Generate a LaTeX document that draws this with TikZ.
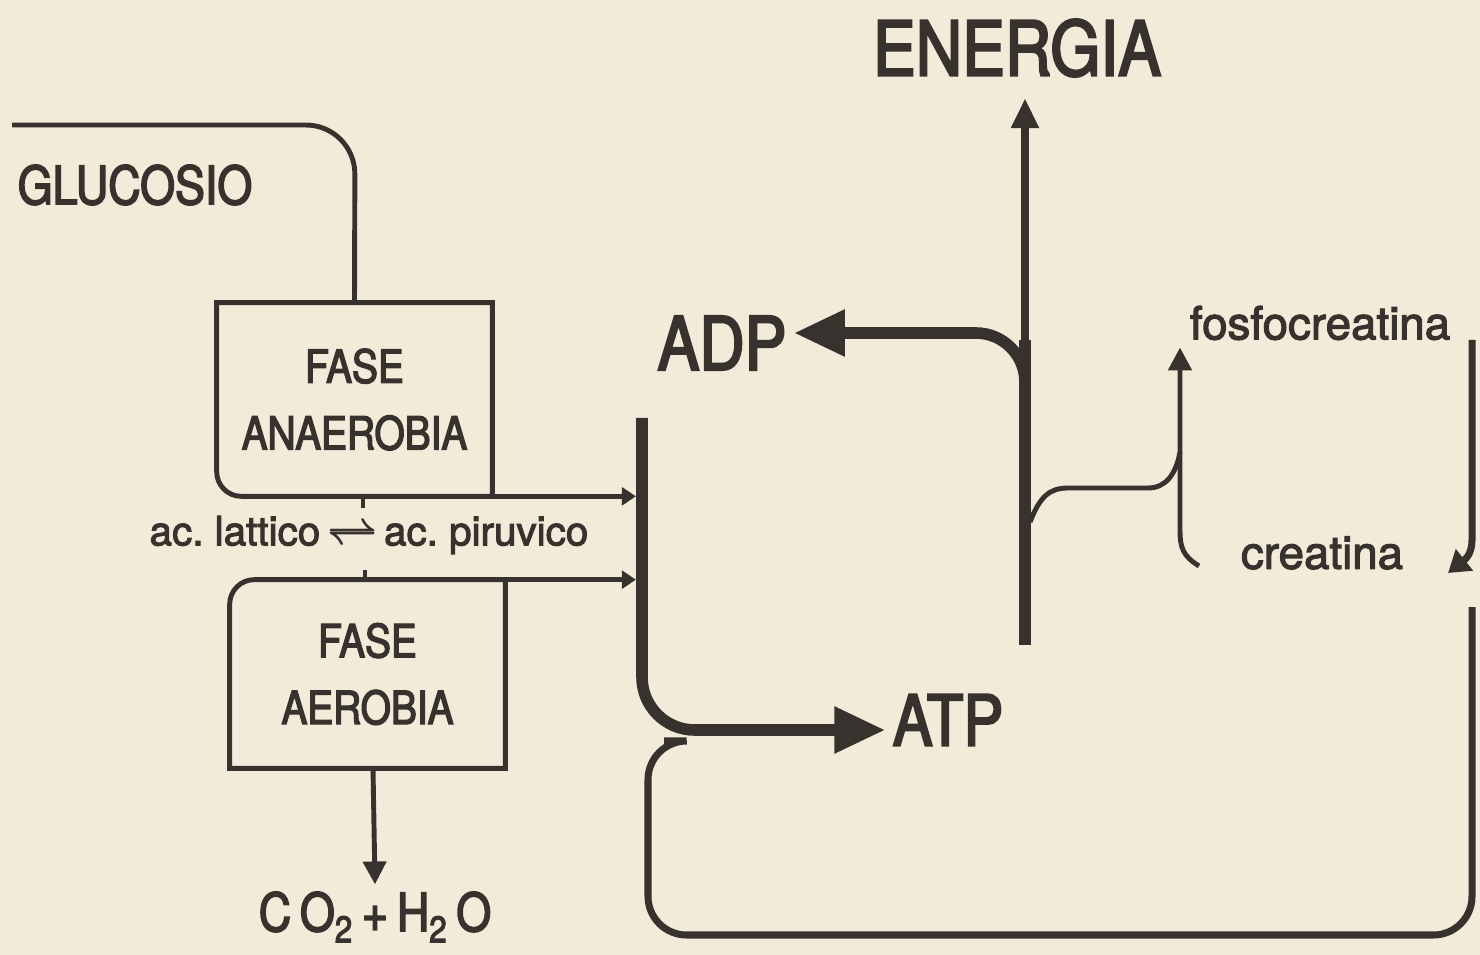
\documentclass[tikz,border=0pt]{standalone}
\usepackage{amsmath}
\usepackage{fontspec}
\setmainfont[FakeBold=2.5]{TeX Gyre Heros}
\newfontfamily\stretto[FakeStretch=0.85,FakeBold=3]{TeX Gyre Heros}
\usetikzlibrary{arrows.meta,positioning}
\definecolor{inchiostro}{HTML}{37322D}
\definecolor{carta}{HTML}{F3EBDA}
\tikzset{
  filo/.style={draw=inchiostro, line width=2.8pt},
  anello/.style={draw=inchiostro, line width=4pt},
  spesso/.style={draw=inchiostro, line width=6.6pt},
  fase/.style={minimum width=5.5cm, align=center, text=inchiostro, inner sep=0pt,
    font=\stretto\fontsize{26}{38}\selectfont},
  scritta/.style={text=inchiostro, inner sep=4pt},
  punta/.style={-{Triangle[length=8pt,width=10pt]}},
  puntina/.style={-{Triangle[length=13pt,width=13pt]}},
  puntona/.style={-{Triangle[length=29pt,width=25pt]}},
}
\begin{document}
\begin{tikzpicture}[x=0.02cm, y=-0.02cm]
  \fill[carta] (0,0) rectangle (1480,955);
  \useasboundingbox (0,0) rectangle (1480,955);

  % scritte
  \node[scritta, inner ysep=12pt, font=\stretto\fontsize{43}{43}\selectfont] (energia) at (1017,48) {ENERGIA};
  \node[scritta, font=\stretto\fontsize{30}{30}\selectfont] (glucosio) at (135,185) {GLUCOSIO};
  \node[scritta, font=\stretto\fontsize{42}{42}\selectfont] (adp) at (722,343) {ADP};
  \node[scritta, font=\stretto\fontsize{40}{40}\selectfont] (atp) at (948,720) {ATP};
  \node[scritta, font=\fontsize{23}{23}\selectfont] (acidi) at (369,535)
    {ac.\ lattico\,$\boldsymbol{\rightleftharpoons}$\,ac.\ piruvico};
  \node[scritta, font=\stretto\fontsize{30}{30}\selectfont] (prodotti) at (375,917)
    {C\,O\textsubscript{2}\,+\,H\textsubscript{2}\,O};
  \node[scritta, font=\fontsize{26}{26}\selectfont] (fosfo) at (1320,323) {fosfocreatina};
  \node[scritta, font=\fontsize{26}{26}\selectfont] (creatina) at (1322,553) {creatina};

  % fasi
  \node[fase, minimum height=3.86cm] (anaerobia) at (354.5,399.5) {FASE\\ANAEROBIA};
  \node[fase, minimum height=3.76cm] (aerobia) at (367.5,674) {FASE\\AEROBIA};
  \draw[filo] (anaerobia.south east) -- (anaerobia.north east) -- (anaerobia.north west)
    {[rounded corners=14] -- (anaerobia.south west) -- (anaerobia.south east)};
  \draw[filo] (aerobia.north east) -- (aerobia.south east) -- (aerobia.south west)
    {[rounded corners=14] -- (aerobia.north west) -- (aerobia.north east)};

  % glucosio
  \coordinate (inizio) at (12,125);
  \draw[filo, rounded corners=28] (inizio) -- (355,125) -- (anaerobia.north);

  % equilibrio acidi
  \draw[filo] (363,0 |- anaerobia.south) -- (363,508);
  \draw[filo] (365,570) -- (365,0 |- aerobia.north);
  \draw[filo, puntina] (373,0 |- aerobia.south) -- (prodotti.north);

  % verso ATP
  \coordinate (barra) at (642,418);
  \draw[filo, punta] (anaerobia.south east) -- (636,0 |- anaerobia.south);
  \draw[filo, punta] (aerobia.north east) -- (636,0 |- aerobia.north);
  \draw[spesso, puntona, rounded corners=30] (barra) -- (642,730) -- (atp.west |- 0,730);

  % energia
  \coordinate (base) at (1025,645);
  \draw[spesso] (base) -- (1025,340);
  \draw[inchiostro, line width=4.6pt, -{Triangle[length=17pt,width=15pt]}] (1025,350) -- (energia.south -| base);
  \draw[spesso, puntona, rounded corners=28] (1025,390) -- (1025,333) -- (adp.east |- 0,333);

  % fosfocreatina
  \coordinate (gancio) at (1199,566);
  \draw[filo] (1030,522) .. controls (1040,496) and (1050,488) .. (1068,488) -- (1148,488)
    .. controls (1166,488) and (1176,474) .. (1180,452);
  \draw[filo, puntina] (gancio) .. controls (1183,556) and (1180,548) .. (1180,530)
    -- (1180,0 |- fosfo.south);

  % ritorno
  \coordinate (discesa) at (1472,340);
  \coordinate (ritorno) at (1472,607);
  \draw[anello, -{Triangle[length=12pt,width=15pt]}] (discesa) -- (1472,540)
    .. controls (1472,556) and (1463,561) .. (1448,573);
  \draw[anello, rounded corners=22] (ritorno) -- (1472,935) -- (648,935) -- (648,741) -- (664,741);
\end{tikzpicture}
\end{document}
